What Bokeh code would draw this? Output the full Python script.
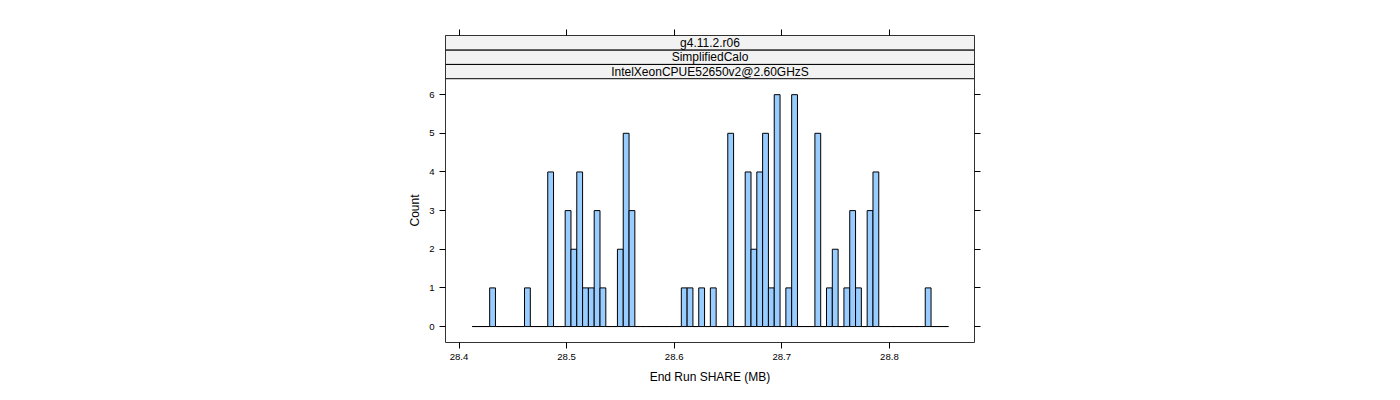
import math
import numpy as np
from bokeh.plotting import figure
from bokeh.models import Range1d, LinearAxis, FixedTicker, Title, ColumnDataSource
from bokeh.core.properties import value
from bokeh.embed import file_html
from bokeh.resources import INLINE

# ---- data ----
strip_labels = ["g4.11.2.r06", "SimplifiedCalo", "IntelXeonCPUE52650v2@2.60GHzS"]
x_label = "End Run SHARE (MB)"
y_label = "Count"
x_ticks = [28.4, 28.5, 28.6, 28.7, 28.8]
x_tick_labels = ["28.4", "28.5", "28.6", "28.7", "28.8"]
y_ticks = [0, 1, 2, 3, 4, 5, 6]
break_lo = 28.4123
break_hi = 28.8549
counts = [
    0, 0, 0, 1, 0, 0, 0, 0, 0, 1,
    0, 0, 0, 4, 0, 0, 3, 2, 4, 1,
    1, 3, 1, 0, 0, 2, 5, 3, 0, 0,
    0, 0, 0, 0, 0, 0, 1, 1, 0, 1,
    0, 1, 0, 0, 5, 0, 0, 4, 2, 4,
    5, 1, 6, 0, 1, 6, 0, 0, 0, 5,
    0, 1, 2, 0, 1, 3, 1, 0, 3, 4,
    0, 0, 0, 0, 0, 0, 0, 0, 1, 0,
    0, 0,
]

breaks = np.linspace(break_lo, break_hi, len(counts) + 1)
src = ColumnDataSource(dict(left=breaks[:-1], right=breaks[1:],
                            top=counts, bottom=[0] * len(counts)))

FONT = "Liberation Sans"
X0, X1 = 28.38745, 28.87909
Y0, Y1 = -0.413, 7.531
strip_edges = [7.531, 7.152, 6.782, 6.413]

p = figure(width=1400, height=400, output_backend="svg", toolbar_location=None,
           x_range=Range1d(X0, X1), y_range=Range1d(Y0, Y1),
           min_border_left=445, min_border_right=426, min_border_top=35,
           min_border_bottom=58, x_axis_location=None, y_axis_location=None)
p.xgrid.visible = False
p.ygrid.visible = False
p.background_fill_color = "white"
p.border_fill_color = "white"
p.outline_line_color = "#333333"
p.outline_line_width = 1

# bars (zero bins draw the baseline)
p.quad(left="left", right="right", top="top", bottom="bottom", source=src,
       fill_color="#99CCFF", line_color="black", line_width=1)

# strips
for i, lab in enumerate(strip_labels):
    top, bot = strip_edges[i], strip_edges[i + 1]
    p.quad(left=X0, right=X1, top=top, bottom=bot, fill_color="#F2F2F2",
           line_color="black", line_width=1)
    p.text(x=[(X0 + X1) / 2], y=[(top + bot) / 2], text=[lab],
           text_font=value(FONT), text_font_size="12px", text_align="center",
           text_baseline="middle", text_color="black")

def style_axis(ax):
    ax.axis_line_color = None
    ax.major_tick_out = 6
    ax.major_tick_in = 0
    ax.minor_tick_line_color = None
    ax.major_tick_line_color = "black"
    ax.major_label_text_font = FONT
    ax.major_label_text_font_size = "9.6px"
    ax.major_label_text_color = "black"
    ax.major_label_standoff = 5

xt = FixedTicker(ticks=x_ticks)
yt = FixedTicker(ticks=y_ticks)

bx = LinearAxis(ticker=xt, major_label_overrides={t: l for t, l in zip(x_ticks, x_tick_labels)})
style_axis(bx)
bx.axis_label = x_label
bx.axis_label_text_font = FONT
bx.axis_label_text_font_size = "12px"
bx.axis_label_text_font_style = "normal"
bx.axis_label_text_color = "black"
bx.axis_label_standoff = 7
p.add_layout(bx, "below")

tx = LinearAxis(ticker=xt, major_label_overrides={t: "" for t in x_ticks})
style_axis(tx)
p.add_layout(tx, "above")

ly = LinearAxis(ticker=yt)
style_axis(ly)
p.add_layout(ly, "left")

ry = LinearAxis(ticker=yt, major_label_overrides={t: "" for t in y_ticks})
style_axis(ry)
p.add_layout(ry, "right")

p.add_layout(Title(text=y_label, align="left", offset=116, standoff=9,
                   text_font=FONT, text_font_size="12px",
                   text_font_style="normal", text_color="black"), "left")

open("out.html", "w").write(file_html(p, INLINE))
